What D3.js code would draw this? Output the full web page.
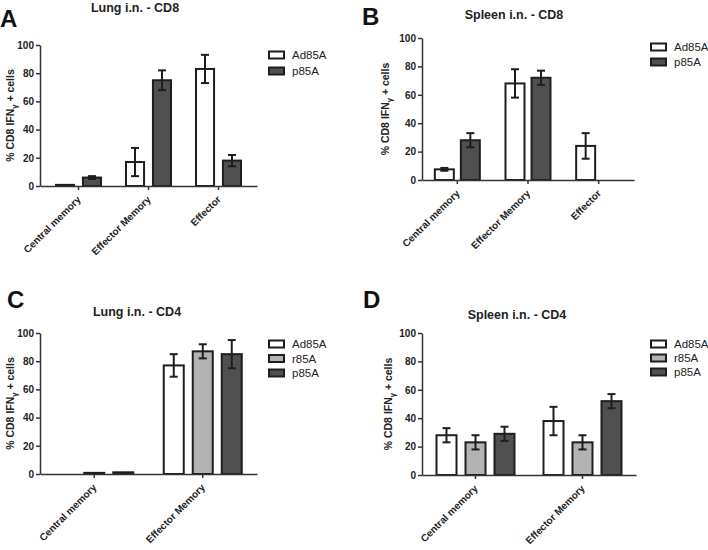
<!DOCTYPE html>
<html>
<head>
<meta charset="utf-8">
<script src="https://cdn.jsdelivr.net/npm/d3@7"></script>
<style>
html,body{margin:0;padding:0;background:#fff;}
svg{display:block;font-family:Arial,"Liberation Sans",sans-serif;}
</style>
</head>
<body>
<svg id="chart" width="708" height="550"></svg>
<script>
// ---------- data ----------
const cats3 = ["Central memory", "Effector Memory", "Effector"];
const cats2 = ["Central memory", "Effector Memory"];
const series2 = ["Ad85A", "p85A"];
const series3 = ["Ad85A", "r85A", "p85A"];
const yTicks = [0, 20, 40, 60, 80, 100];

// Panel A: Lung i.n. - CD8
const lungCD8_Ad85A = [0.8, 17, 83];
const lungCD8_Ad85A_err = [0.3, 10, 10];
const lungCD8_p85A = [6, 75, 18];
const lungCD8_p85A_err = [1, 7, 4];

// Panel B: Spleen i.n. - CD8
const spleenCD8_Ad85A = [7.5, 68, 24];
const spleenCD8_Ad85A_err = [1, 10, 9];
const spleenCD8_p85A = [28, 72, null];
const spleenCD8_p85A_err = [5, 5, null];

// Panel C: Lung i.n. - CD4
const lungCD4_Ad85A = [0, 77];
const lungCD4_Ad85A_err = [0, 8];
const lungCD4_r85A = [0.8, 87];
const lungCD4_r85A_err = [0.2, 5];
const lungCD4_p85A = [1.2, 85];
const lungCD4_p85A_err = [0.3, 10];

// Panel D: Spleen i.n. - CD4
const spleenCD4_Ad85A = [28, 38];
const spleenCD4_Ad85A_err = [5, 10];
const spleenCD4_r85A = [23, 23];
const spleenCD4_r85A_err = [5, 5];
const spleenCD4_p85A = [29, 52];
const spleenCD4_p85A_err = [5, 5];

const fills = {"Ad85A": "#ffffff", "r85A": "#b3b3b3", "p85A": "#505050"};

// ---------- drawing ----------
const svg = d3.select("#chart");
const INK = "#1e1e1e";
const AXIS = "#333333";

function panel(cfg) {
  const g = svg.append("g");
  const x = d3.scaleBand().domain(cfg.cats).range([cfg.x0, cfg.x1])
    .paddingInner(0).paddingOuter(cfg.po);
  const y = d3.scaleLinear().domain([0, 100]).range([cfg.yb, cfg.yt]);
  const xs = d3.scaleBand().domain(cfg.series).range([-cfg.gw / 2, cfg.gw / 2])
    .paddingInner(cfg.pi).paddingOuter(0);

  // bars
  cfg.series.forEach((s, si) => {
    const vals = cfg.values[si], errs = cfg.errors[si];
    cfg.cats.forEach((c, ci) => {
      const v = vals[ci];
      if (v === null || v <= 0) return;
      const bx = x(c) + x.bandwidth() / 2 + xs(s);
      g.append("rect")
        .attr("x", bx).attr("y", y(v))
        .attr("width", xs.bandwidth()).attr("height", y(0) - y(v))
        .attr("fill", fills[s]).attr("stroke", INK).attr("stroke-width", 2);
      const e = errs[ci];
      if (e && e > 0.5) {
        const cx = bx + xs.bandwidth() / 2;
        g.append("line").attr("x1", cx).attr("x2", cx)
          .attr("y1", y(v - e)).attr("y2", y(v + e))
          .attr("stroke", INK).attr("stroke-width", 2);
        [v - e, v + e].forEach(ev => {
          g.append("line").attr("x1", cx - 4).attr("x2", cx + 4)
            .attr("y1", y(ev)).attr("y2", y(ev))
            .attr("stroke", INK).attr("stroke-width", 2);
        });
      }
    });
  });

  // y axis
  const ya = g.append("g").attr("transform", `translate(${cfg.x0},0)`)
    .call(d3.axisLeft(y).tickValues(yTicks).tickSize(4).tickSizeOuter(0).tickPadding(2));
  ya.select(".domain").attr("stroke", AXIS).attr("stroke-width", 1.5);
  ya.selectAll(".tick line").attr("stroke", AXIS).attr("stroke-width", 1.5);
  ya.selectAll(".tick text").attr("fill", "#222").attr("font-size", 10)
    .attr("font-weight", "bold").attr("font-family", "Arial, 'Liberation Sans', sans-serif");

  // x axis
  const xa = g.append("g").attr("transform", `translate(0,${cfg.yb})`)
    .call(d3.axisBottom(x).tickSize(4).tickSizeOuter(0).tickFormat(""));
  xa.select(".domain").attr("stroke", AXIS).attr("stroke-width", 1.5);
  xa.selectAll(".tick line").attr("stroke", AXIS).attr("stroke-width", 1.5);

  // rotated category labels
  cfg.cats.forEach(c => {
    const tx = x(c) + x.bandwidth() / 2;
    g.append("text")
      .attr("transform", `translate(${tx + 3},${cfg.yb + 14}) rotate(-45)`)
      .attr("text-anchor", "end")
      .attr("font-size", 10).attr("font-weight", "bold").attr("fill", "#222")
      .text(c);
  });

  // y axis title
  const yt = g.append("text")
    .attr("transform", `translate(${cfg.ylx},${(cfg.yt + cfg.yb) / 2}) rotate(-90)`)
    .attr("text-anchor", "middle")
    .attr("font-size", 10.5).attr("font-weight", "bold").attr("fill", "#222");
  yt.append("tspan").text("% CD8 IFN");
  yt.append("tspan").attr("font-size", 7.5).attr("dy", 2.5).text("γ");
  yt.append("tspan").attr("dy", -2.5).text(cfg.ysuffix);

  // title
  g.append("text").attr("x", cfg.tx).attr("y", cfg.ty)
    .attr("text-anchor", "middle").attr("font-size", 12.5).attr("font-weight", "bold")
    .attr("fill", "#222").text(cfg.title);

  // panel letter
  g.append("text").attr("x", cfg.lx).attr("y", cfg.ly)
    .attr("font-size", 24).attr("font-weight", "bold").attr("fill", "#111").text(cfg.letter);

  // legend
  cfg.series.forEach((s, i) => {
    const ly = cfg.legY + i * cfg.legStep;
    g.append("rect").attr("x", cfg.legX).attr("y", ly - 3.5)
      .attr("width", 15).attr("height", 7)
      .attr("fill", fills[s]).attr("stroke", INK).attr("stroke-width", 2);
    g.append("text").attr("x", cfg.legX + 23).attr("y", ly).attr("dy", "0.36em")
      .attr("font-size", 11.5).attr("fill", "#222").text(s);
  });
}

panel({
  cats: cats3, series: series2,
  values: [lungCD8_Ad85A, lungCD8_p85A], errors: [lungCD8_Ad85A_err, lungCD8_p85A_err],
  x0: 40, x1: 257, yt: 45, yb: 186, po: 0.05, gw: 45, pi: 0.33,
  ylx: 14, ysuffix: " + cells", title: "Lung i.n. - CD8", tx: 135, ty: 12,
  letter: "A", lx: 0, ly: 27, legX: 269, legY: 55, legStep: 16
});
panel({
  cats: cats3, series: series2,
  values: [spleenCD8_Ad85A, spleenCD8_p85A], errors: [spleenCD8_Ad85A_err, spleenCD8_p85A_err],
  x0: 422, x1: 634, yt: 38, yb: 180, po: 0, gw: 45, pi: 0.27,
  ylx: 389, ysuffix: " +  cells", title: "Spleen i.n. - CD8", tx: 514, ty: 19,
  letter: "B", lx: 362, ly: 25, legX: 651, legY: 47, legStep: 15
});
panel({
  cats: cats2, series: series3,
  values: [lungCD4_Ad85A, lungCD4_r85A, lungCD4_p85A],
  errors: [lungCD4_Ad85A_err, lungCD4_r85A_err, lungCD4_p85A_err],
  x0: 40, x1: 257, yt: 333, yb: 474, po: 0, gw: 78, pi: 0.31,
  ylx: 14, ysuffix: " + cells", title: "Lung i.n. - CD4", tx: 137, ty: 316,
  letter: "C", lx: 7, ly: 308, legX: 269, legY: 344, legStep: 14.5
});
panel({
  cats: cats2, series: series3,
  values: [spleenCD4_Ad85A, spleenCD4_r85A, spleenCD4_p85A],
  errors: [spleenCD4_Ad85A_err, spleenCD4_r85A_err, spleenCD4_p85A_err],
  x0: 422, x1: 636, yt: 333, yb: 475, po: 0, gw: 78, pi: 0.31,
  ylx: 392, ysuffix: " +  cells", title: "Spleen i.n. - CD4", tx: 517, ty: 319,
  letter: "D", lx: 363, ly: 308, legX: 651, legY: 344, legStep: 14
});
</script>
</body>
</html>
